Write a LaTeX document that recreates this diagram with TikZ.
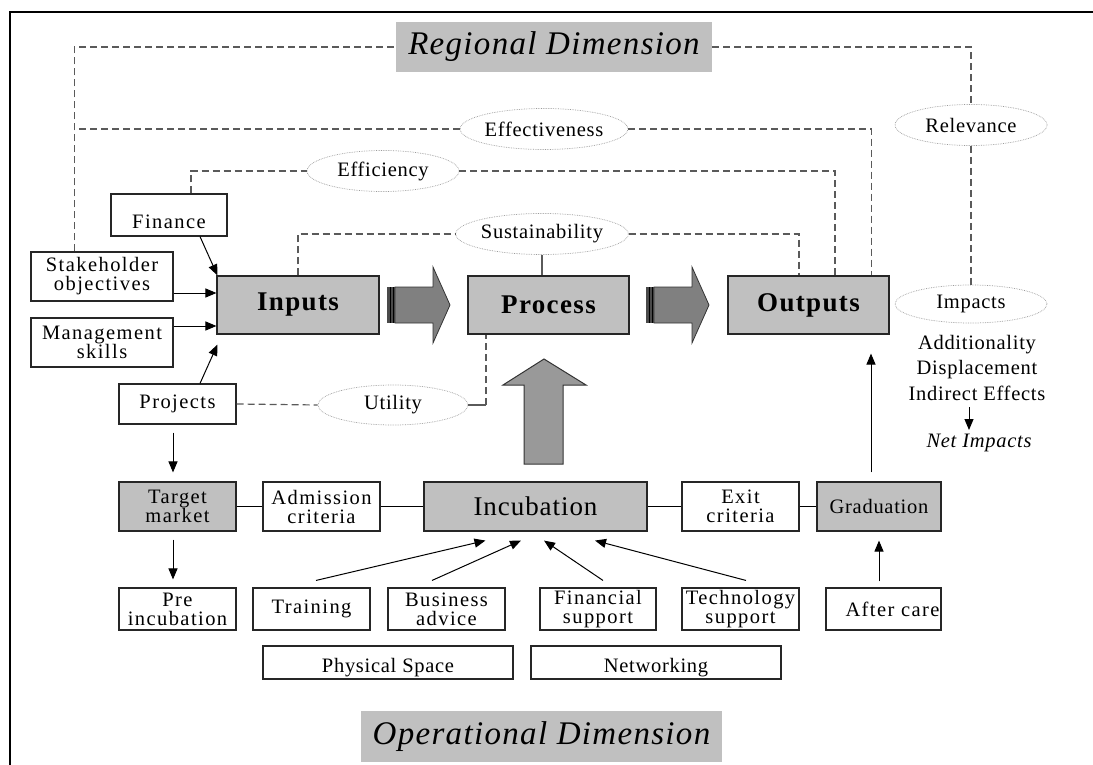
\documentclass[tikz,border=0pt]{standalone}
\usepackage{fontspec}
\setmainfont{Liberation Serif}
\usetikzlibrary{arrows.meta,shapes.geometric,calc}
\definecolor{boxgray}{HTML}{C0C0C0}
\definecolor{arrgray}{HTML}{808080}
\definecolor{barc}{HTML}{4A4A4A}
\definecolor{uparr}{HTML}{999999}
\definecolor{dashc}{HTML}{5A5A5A}
\definecolor{ellc}{HTML}{9A9A9A}
\newcommand\bxf{\fontsize{20.5}{19}\selectfont\addfontfeature{LetterSpace=7}}
\newcommand\elf{\fontsize{20.5}{19}\selectfont\addfontfeature{LetterSpace=3.5}}
\newcommand\bigf{\fontsize{27}{28}\selectfont\bfseries\addfontfeature{LetterSpace=5}}
\newcommand\incf{\fontsize{27}{28}\selectfont\addfontfeature{LetterSpace=3.5}}
\newcommand\dimf{\fontsize{33}{35}\selectfont\itshape\addfontfeature{LetterSpace=4}}
\tikzset{
  box/.style={draw=black!85, line width=1.1pt, fill=white, inner sep=0pt, align=center, font=\bxf},
  gbox/.style={box, fill=boxgray},
  ell/.style={ellipse, draw=ellc, densely dotted, line width=0.7pt, inner sep=0pt, font=\elf, minimum width=152pt, minimum height=41pt},
  dsh/.style={draw=dashc, line width=1.2pt, dash pattern=on 7pt off 4pt},
  arr/.style={-{Triangle[length=11pt,width=9pt]}, line width=1pt},
  plain/.style={inner sep=0pt, font=\elf},
  dimbox/.style={fill=boxgray, inner sep=0pt, font=\dimf}
}
\begin{document}
\begin{tikzpicture}[x=1pt,y=-1pt]
\useasboundingbox (0,0) rectangle (1093,765);
% frame
\draw[line width=1.8pt] (10,765) -- (10,12) -- (1093,12);

% dimension titles
\node[dimbox, minimum width=316pt, minimum height=50pt] (regional) at (554,47) {Regional Dimension};
\node[dimbox, minimum width=361pt, minimum height=51pt] (operational) at (541.5,736.5) {Operational Dimension};

% upper boxes
\node[box, minimum width=116pt, minimum height=42pt] (finance) at (169,215) {\raisebox{-13pt}[0pt][0pt]{Finance}};
\node[box, minimum width=142pt, minimum height=49pt] (stake) at (102,276.5) {Stakeholder\\objectives};
\node[box, minimum width=142pt, minimum height=49pt] (mgmt) at (102,342.5) {Management\\skills};
\node[box, minimum width=117pt, minimum height=40pt] (projects) at (177.5,404) {Projects};

\node[gbox, minimum width=162pt, minimum height=58pt, font=\bigf] (inputs) at (298,305) {Inputs};
\node[gbox, minimum width=161pt, minimum height=58pt, font=\bigf] (process) at (548.5,305) {Process};
\node[gbox, minimum width=161pt, minimum height=58pt, font=\bigf] (outputs) at (808.5,305) {Outputs};

% ellipses
\node[ell] (relevance) at (971,125) {Relevance};
\node[ell, minimum height=38pt] (impacts) at (971,304) {Impacts};
\node[ell] (effectiveness) at (544,129) {Effectiveness};
\node[ell] (efficiency) at (383,171) {Efficiency};
\node[ell] (sustainability) at (542,234) {Sustainability};
\node[ell, minimum width=150pt, minimum height=40pt] (utility) at (393,405) {Utility};

% impacts text
\node[plain] (additionality) at (977,345) {Additionality};
\node[plain] (displacement) at (977,370) {Displacement};
\node[plain] (indirect) at (977,393) {Indirect Effects};
\node[plain, font=\elf\itshape] (net) at (979,443) {Net Impacts};

% operational row
\node[gbox, minimum width=117pt, minimum height=49pt] (target) at (177.5,506.5) {Target\\market};
\node[box, minimum width=117pt, minimum height=49pt] (admission) at (321.5,506.5) {Admission\\criteria};
\node[gbox, minimum width=223pt, minimum height=49pt, font=\incf] (incubation) at (535.5,506.5) {Incubation};
\node[box, minimum width=117pt, minimum height=49pt] (exit) at (740.5,506.5) {Exit\\criteria};
\node[gbox, minimum width=124pt, minimum height=49pt, font=\elf] (graduation) at (879,506.5) {Graduation};

\node[box, minimum width=117pt, minimum height=42pt] (pre) at (177.5,609) {Pre\\incubation};
\node[box, minimum width=117pt, minimum height=42pt] (training) at (311.5,609) {Training};
\node[box, minimum width=117pt, minimum height=42pt] (business) at (446.5,609) {Business\\advice};
\node[box, minimum width=116pt, minimum height=42pt] (financial) at (598,609) {Financial\\support};
\node[box, minimum width=117pt, minimum height=42pt] (technology) at (740.5,609) {Technology\\support};
\node[box, minimum width=115pt, minimum height=42pt] (aftercare) at (883.5,609) {\hspace*{18pt}After care};
\node[box, minimum width=250pt, minimum height=33pt, font=\elf] (physical) at (388,662.5) {\raisebox{-10pt}[0pt][0pt]{Physical Space}};
\node[box, minimum width=250pt, minimum height=33pt, font=\elf] (networking) at (656,662.5) {\raisebox{-10pt}[0pt][0pt]{Networking}};

% big arrows
\foreach \dx in {0,259}{
  \begin{scope}[xshift=\dx pt]
    \fill[barc] (387,287) rectangle (395,323);
    \draw[black, line width=1.1pt] (390.5,287) -- (390.5,323);
    \draw[black, line width=1.1pt] (393.8,287) -- (393.8,323);
    \draw[fill=arrgray, draw=black!80, line width=0.8pt] (395,287) -- (433,287) -- (433,267) -- (450,305) -- (433,343) -- (433,323) -- (395,323) -- cycle;
  \end{scope}
}
\draw[fill=uparr, draw=black!80, line width=1pt] (524,464) -- (524,385) -- (503,385) -- (544,359) -- (586,385) -- (563,385) -- (563,464) -- cycle;

% dashed evaluation connectors
\coordinate (L) at (75,0);
\coordinate (U) at (486,0);
\draw[dsh] ([xshift=44pt]stake.north west) |- (regional.west);
\draw[dsh] (regional.east) -| (relevance.north);
\draw[dsh] (relevance.south) -- (impacts.north);
\draw[dsh] (effectiveness.west) -- (effectiveness.west -| L);
\draw[dsh] (effectiveness.east) -| ([xshift=-18pt]outputs.north east);
\draw[dsh] ([xshift=22pt]finance.north) |- (efficiency.west);
\draw[dsh] (efficiency.east) -| ([xshift=26.5pt]outputs.north);
\draw[dsh] (inputs.north) |- (sustainability.west);
\draw[dsh] (sustainability.east) -| ([xshift=-9.5pt]outputs.north);
\draw[line width=1.1pt, draw=dashc] (sustainability.south) -- (sustainability.south |- process.north);
\draw[dsh] (projects.east) -- (utility.west);
\draw[line width=1.1pt, draw=dashc] (utility.east) -- (utility.east -| U);
\draw[dsh] (utility.east -| U) -- (U |- process.south);

% solid arrows
\draw[arr] ([xshift=31pt]finance.south) -- ([xshift=1pt]inputs.north west);
\draw[arr] ([yshift=-16.5pt]stake.east) -- ([yshift=-16.5pt]stake.east -| inputs.west);
\draw[arr] ([yshift=16.5pt]mgmt.east) -- ([yshift=16.5pt]mgmt.east -| inputs.west);
\draw[arr] ([xshift=22.5pt]projects.north) -- ([xshift=1pt,yshift=-10pt]inputs.south west);
\draw[arr] ([xshift=-4.5pt,yshift=-8pt]projects.south) -- ([xshift=-4.5pt,yshift=9pt]target.north);
\draw[arr] ([xshift=-4.5pt,yshift=-8pt]target.south) -- ([xshift=-4.5pt,yshift=8pt]pre.north);
\draw[arr] ([xshift=4.5pt,yshift=7pt]training.north) -- ([xshift=62pt,yshift=-9pt]incubation.south west);
\draw[arr] ([xshift=-14.5pt,yshift=7pt]business.north) -- ([xshift=-14.5pt,yshift=-9pt]incubation.south);
\draw[arr] ([xshift=5pt,yshift=7pt]financial.north) -- ([xshift=8.5pt,yshift=-9pt]incubation.south);
\draw[arr] ([xshift=5.5pt,yshift=7pt]technology.north) -- ([xshift=59.5pt,yshift=-9pt]incubation.south);
\draw[arr] ([xshift=-4.5pt,yshift=6pt]aftercare.north) -- ([yshift=-9pt]graduation.south);
\draw[arr] ([xshift=-8pt,yshift=9pt]graduation.north) -- ([xshift=62.5pt,yshift=-19pt]outputs.south);
\draw[arr] ([xshift=-8pt,yshift=-14pt]indirect.center) -- ([xshift=-10pt,yshift=13pt]net.center);

% plain connectors
\draw[line width=1.1pt] (target.east) -- (admission.west);
\draw[line width=1.1pt] (admission.east) -- (incubation.west);
\draw[line width=1.1pt] (incubation.east) -- (exit.west);
\draw[line width=1.1pt] (exit.east) -- (graduation.west);
\end{tikzpicture}
\end{document}
